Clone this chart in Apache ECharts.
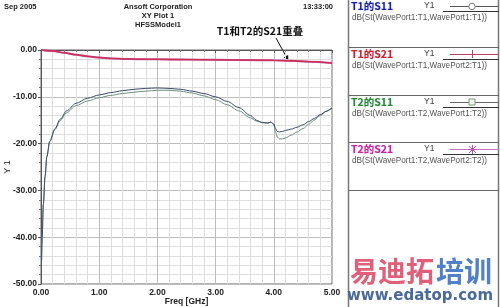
<!DOCTYPE html>
<html><head><meta charset="utf-8">
<script src="https://cdn.jsdelivr.net/npm/echarts@6/dist/echarts.min.js"></script>
<style>html,body{margin:0;padding:0;background:#fff}#c{width:500px;height:307px}</style>
</head><body><div id="c"></div>
<script>
// ---- data ----
const freqS11 = [0.01,0.02,0.04,0.07,0.1,0.15,0.24,0.33,0.44,0.6,0.8,1.0,1.2,1.4,1.6,1.8,2.0,2.2,2.4,2.6,2.8,3.0,3.2,3.4,3.6,3.7,3.8,3.9,3.95,4.0,4.03,4.06,4.1,4.15,4.2,4.3,4.4,4.5,4.6,4.7,4.8,4.9,5.0];
const t1S11 = [-45,-40,-33,-27,-22.8,-19.5,-16.8,-14.8,-13.0,-11.4,-10.3,-9.6,-9.1,-8.7,-8.4,-8.2,-8.1,-8.2,-8.4,-8.8,-9.3,-10.0,-11.0,-12.3,-14.0,-15.0,-15.5,-15.6,-15.4,-15.8,-16.8,-17.4,-17.5,-17.4,-17.2,-16.9,-16.5,-16.0,-15.3,-14.6,-13.8,-13.1,-12.4];
const t2S11 = [-45,-40,-33,-27,-22.8,-19.6,-17.0,-15.1,-13.4,-11.9,-10.9,-10.2,-9.7,-9.3,-9.0,-8.8,-8.6,-8.6,-8.8,-9.2,-9.8,-10.6,-11.7,-13.0,-14.5,-15.2,-15.5,-15.6,-15.4,-16.0,-17.5,-18.6,-19.0,-19.0,-18.8,-18.2,-17.5,-16.8,-15.9,-14.9,-14.0,-13.1,-12.3];
const freqS21 = [0.01,0.2,0.4,0.6,0.8,1.0,1.2,1.5,2.0,2.5,3.0,3.5,4.0,4.3,4.6,5.0];
const t1S21 = [0,-0.2,-0.6,-1.0,-1.35,-1.6,-1.8,-1.9,-2.0,-2.05,-2.1,-2.15,-2.2,-2.3,-2.5,-2.8];
const t2S21 = [0,-0.2,-0.6,-1.0,-1.35,-1.6,-1.8,-1.9,-2.0,-2.05,-2.1,-2.15,-2.2,-2.3,-2.5,-2.8];
const xTicks = ['0.00','1.00','2.00','3.00','4.00','5.00'];
const seriesNames = ['T1的S11','T1的S21','T2的S11','T2的S21'];
const seriesExprs = ['dB(St(WavePort1:T1,WavePort1:T1))','dB(St(WavePort1:T1,WavePort2:T1))','dB(St(WavePort1:T2,WavePort1:T2))','dB(St(WavePort1:T2,WavePort2:T2))'];
const headerTexts = ['Sep 2005','Ansoft Corporation','XY Plot 1','HFSSModel1','13:33:00'];
const noteText = 'T1和T2的S21重叠';
const noteTarget = [4.25, -2.25];

const zip = (xs, ys) => xs.map((x, i) => [x, ys[i]]);
const FONT = '"Liberation Sans", Arial, sans-serif';
const lineColors = ['#3b4a66', '#cc2f4f', '#6f8f80', '#c54fa0'];
const titleColors = ['#1c1ca8', '#d42020', '#2a8a2a', '#d0209a'];

const chart = echarts.init(document.getElementById('c'), null, {renderer: 'canvas'});

const graphics = [];
const HF = 'bold 7.5px ' + FONT;
// header
graphics.push({type:'text', x:4, y:7, style:{text:headerTexts[0], font:HF, fill:'#222', verticalAlign:'middle'}});
graphics.push({type:'text', x:158, y:7, style:{text:headerTexts[1], font:HF, fill:'#222', align:'center', verticalAlign:'middle'}});
graphics.push({type:'text', x:158, y:15.5, style:{text:headerTexts[2], font:HF, fill:'#222', align:'center', verticalAlign:'middle'}});
graphics.push({type:'text', x:158, y:24.5, style:{text:headerTexts[3], font:HF, fill:'#222', align:'center', verticalAlign:'middle'}});
graphics.push({type:'text', x:333, y:7, style:{text:headerTexts[4], font:HF, fill:'#222', align:'right', verticalAlign:'middle'}});
// annotation text
graphics.push({type:'text', x:260, y:31, style:{text:noteText, font:'bold 10.5px "Noto Sans CJK SC", '+FONT, fill:'#111', align:'center', verticalAlign:'middle'}});

// legend panel
graphics.push({type:'rect', shape:{x:348.5, y:-1, width:150, height:309}, style:{fill:'#fff', stroke:'#777', lineWidth:1.5}});
const rowTops = [0, 48, 96, 143];
rowTops.forEach((t, i) => {
  if (i > 0) graphics.push({type:'line', shape:{x1:349, y1:t-0.5, x2:499, y2:t-0.5}, style:{stroke:'#666', lineWidth:1}});
  graphics.push({type:'text', x:351, y:t+6, style:{text:seriesNames[i], font:'bold 10.5px "Noto Sans CJK SC", '+FONT, fill:titleColors[i], align:'left', verticalAlign:'middle', textShadowColor:'rgba(150,170,255,0.5)', textShadowBlur:2}});
  graphics.push({type:'text', x:424, y:t+6, style:{text:'Y1', font:'8.5px '+FONT, fill:'#444', verticalAlign:'middle'}});
  const sc = i===0 ? '#555' : i===1 ? '#c04060' : i===2 ? '#666' : '#d070c0';
  graphics.push({type:'line', shape:{x1:450, y1:t+6.5, x2:499, y2:t+6.5}, style:{stroke:sc, lineWidth:1}});
  graphics.push({type:'line', shape:{x1:443, y1:t+11.5, x2:499, y2:t+11.5}, style:{stroke:'#333', lineWidth:1}});
  if (i===0) graphics.push({type:'circle', shape:{cx:472, cy:t+6.5, r:3.2}, style:{fill:'#fff', stroke:'#777', lineWidth:1}});
  if (i===1) graphics.push({type:'line', shape:{x1:472.5, y1:t+2, x2:472.5, y2:t+10}, style:{stroke:'#c04060', lineWidth:1}});
  if (i===2) graphics.push({type:'rect', shape:{x:469, y:t+3, width:6, height:6}, style:{fill:'#fff', stroke:'#6a9a6a', lineWidth:1}});
  if (i===3) {
    graphics.push({type:'line', shape:{x1:468, y1:t+6.5, x2:477, y2:t+6.5}, style:{stroke:'#c050b0', lineWidth:1}});
    graphics.push({type:'line', shape:{x1:472.5, y1:t+2, x2:472.5, y2:t+11}, style:{stroke:'#c050b0', lineWidth:1}});
    graphics.push({type:'line', shape:{x1:469, y1:t+3, x2:476, y2:t+10}, style:{stroke:'#c050b0', lineWidth:1}});
    graphics.push({type:'line', shape:{x1:476, y1:t+3, x2:469, y2:t+10}, style:{stroke:'#c050b0', lineWidth:1}});
  }
  graphics.push({type:'text', x:352, y:t+18, style:{text:seriesExprs[i], font:'8.2px '+FONT, fill:'#555', verticalAlign:'middle'}});
});
graphics.push({type:'line', shape:{x1:349, y1:190.5, x2:499, y2:190.5}, style:{stroke:'#666', lineWidth:1}});
// watermark
graphics.push({type:'text', x:350, y:271, style:{text:'易迪拓', font:'bold 28px "Noto Sans CJK SC", sans-serif', fill:'#e0607a', verticalAlign:'middle'}});
graphics.push({type:'text', x:436, y:271, style:{text:'培训', font:'bold 28px "Noto Sans CJK SC", sans-serif', fill:'#4f80c8', verticalAlign:'middle'}});
graphics.push({type:'text', x:420, y:296, style:{text:'www.edatop.com', font:'bold 15px "DejaVu Sans", sans-serif', fill:'#4a6a9a', align:'center', verticalAlign:'middle'}});

const axisLabelStyle = {fontFamily: FONT, fontSize: 8.5, color: '#222', fontWeight: 'bold'};

chart.setOption({
  animation: false,
  backgroundColor: '#fff',
  grid: {left: 41, right: 168, top: 50, bottom: 23, containLabel: false, outerBoundsMode: 'none', show: true, borderColor: '#666', borderWidth: 1, backgroundColor: '#fff'},
  xAxis: {
    type: 'value', min: 0, max: 5, interval: 1,
    name: 'Freq [GHz]', nameLocation: 'middle', nameGap: 13, nameMoveOverlap: false,
    nameTextStyle: {fontFamily: FONT, fontSize: 8.5, color: '#222', fontWeight: 'bold'},
    axisLine: {show: true, lineStyle: {color: '#555'}},
    axisTick: {show: true, length: 3, lineStyle: {color: '#555'}},
    minorTick: {show: true, splitNumber: 5, length: 2, lineStyle: {color: '#777'}},
    axisLabel: Object.assign({margin: 4, formatter: v => xTicks[Math.round(v)]}, axisLabelStyle),
    splitLine: {show: true, lineStyle: {color: '#bdbdbd', width: 1}},
    minorSplitLine: {show: true, lineStyle: {color: '#dedede', width: 1}}
  },
  yAxis: {
    type: 'value', min: -50, max: 0, interval: 10,
    name: 'Y 1', nameLocation: 'middle', nameGap: 29, nameRotate: 90, nameMoveOverlap: false,
    nameTextStyle: {fontFamily: FONT, fontSize: 9, color: '#222'},
    axisLine: {show: true, lineStyle: {color: '#555'}},
    axisTick: {show: true, length: 3, lineStyle: {color: '#555'}},
    minorTick: {show: true, splitNumber: 5, length: 2, lineStyle: {color: '#777'}},
    axisLabel: Object.assign({margin: 4, formatter: v => v.toFixed(2)}, axisLabelStyle),
    splitLine: {show: true, lineStyle: {color: '#bdbdbd', width: 1}},
    minorSplitLine: {show: true, lineStyle: {color: '#dedede', width: 1}}
  },
  series: [
    {name: seriesNames[3], type: 'line', data: zip(freqS21, t2S21), showSymbol: false, smooth: 0.3, smoothMonotone: 'x', lineStyle: {color: lineColors[3], width: 2}},
    {name: seriesNames[1], type: 'line', data: zip(freqS21, t1S21), showSymbol: false, smooth: 0.3, smoothMonotone: 'x', lineStyle: {color: lineColors[1], width: 1.3}},
    {name: seriesNames[2], type: 'line', data: zip(freqS11, t2S11), showSymbol: false, smooth: 0.3, smoothMonotone: 'x', lineStyle: {color: lineColors[2], width: 1}},
    {name: seriesNames[0], type: 'line', data: zip(freqS11, t1S11), showSymbol: false, smooth: 0.3, smoothMonotone: 'x', lineStyle: {color: lineColors[0], width: 1}}
  ],
  graphic: graphics
});

// annotation arrow pointing to the S21 curves
const tip = chart.convertToPixel({gridIndex: 0}, noteTarget);
const start = [276, 38];
const ang = Math.atan2(tip[1]-start[1], tip[0]-start[0]);
const hl = 5, hw = 2.5;
const bx = tip[0] - hl*Math.cos(ang), by = tip[1] - hl*Math.sin(ang);
graphics.push({type:'line', shape:{x1:start[0], y1:start[1], x2:bx, y2:by}, style:{stroke:'#111', lineWidth:1}});
graphics.push({type:'polygon', shape:{points:[[tip[0],tip[1]],[bx - hw*Math.sin(ang), by + hw*Math.cos(ang)],[bx + hw*Math.sin(ang), by - hw*Math.cos(ang)]]}, style:{fill:'#111'}});
chart.setOption({graphic: graphics});
</script></body></html>
